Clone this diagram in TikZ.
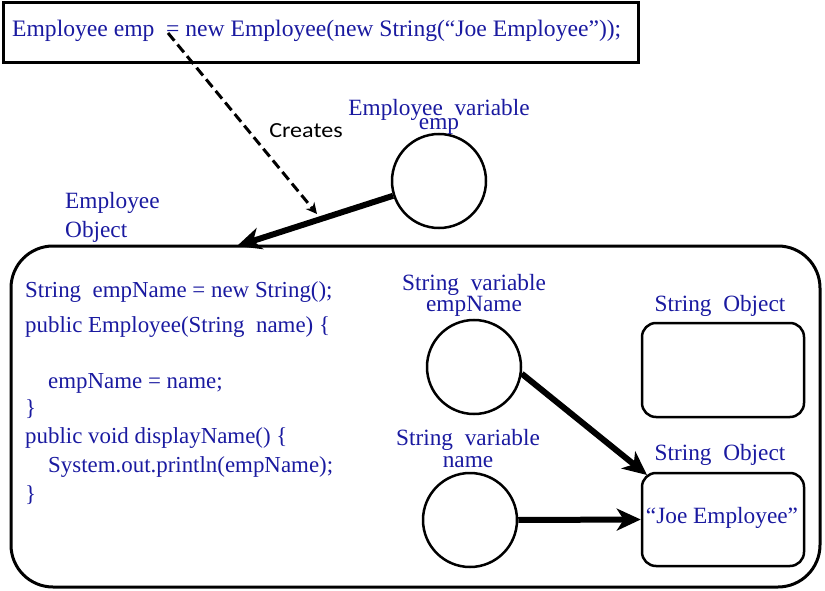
\documentclass[tikz,border=0pt]{standalone}
\usepackage{fontspec}
\setmainfont{Liberation Serif}
\newfontfamily\crfont[FakeStretch=1.12]{Carlito}
\usetikzlibrary{arrows.meta}
\definecolor{codeblue}{RGB}{26,26,160}
\newcommand\tightlines{\lineskiplimit=-100pt\relax}
\begin{document}
\begin{tikzpicture}[x=1pt,y=-1pt,
  txt/.style={text=codeblue,font=\fontsize{22.9}{22.9}\selectfont,inner sep=0pt,anchor=base west},
  lbl/.style={text=codeblue,inner sep=0pt,anchor=base,align=center},
  var/.style={circle,draw,line width=2.5pt,minimum size=94pt,inner sep=0pt},
  sobj/.style={draw,line width=2.5pt,rounded corners=14pt,minimum width=162pt,minimum height=94pt,inner sep=0pt},
  ref/.style={line width=6pt,-{Stealth[length=24pt,width=22pt,inset=7pt]}},
]
\useasboundingbox (0,0) rectangle (825,591);

% statement box
\node[draw,line width=3pt,minimum width=635pt,minimum height=60pt,inner sep=0pt] (stmt) at (320.5,33) {};
\node[txt,font=\fontsize{23.6}{23.6}\selectfont] (stmttxt) at (12,37) {Employee emp\ \ = new Employee(new String(“Joe Employee”));};

% employee object
\node[draw,line width=3pt,rounded corners=42pt,minimum width=809pt,minimum height=341pt,inner sep=0pt] (obj) at (415.5,416.5) {};
\node[txt,align=left,font=\fontsize{23.3}{29}\selectfont] (objlbl) at (65,237) {Employee\\Object};

% employee variable
\node[var] (empc) at (439,181) {};
\node[lbl,font=\fontsize{23.3}{14}\selectfont\tightlines] (emplbl) at (439,130) {Employee\ \ variable\\emp};

% code
\node[txt] (l1) at (25,297) {String\ \ empName = new String();};
\node[txt] (l2) at (25,332) {public Employee(String\ \ name) \{};
\node[txt] (l3) at (48,388) {empName = name;};
\node[txt] (l4) at (25,415) {\}};
\node[txt] (l5) at (25,443) {public void displayName() \{};
\node[txt] (l6) at (48,472) {System.out.println(empName);};
\node[txt] (l7) at (25,501) {\}};

% string variables
\node[var] (c2) at (474,367) {};
\node[lbl,font=\fontsize{23.3}{21}\selectfont\tightlines] (c2lbl) at (474,311) {String\ \ variable\\empName};
\node[var] (c3) at (470,520) {};
\node[lbl,font=\fontsize{23.3}{22}\selectfont\tightlines] (c3lbl) at (468,467) {String\ \ variable\\name};

% string objects
\node[sobj] (so1) at (723,370) {};
\node[lbl,font=\fontsize{23.3}{23.3}\selectfont] (so1lbl) at (720,311) {String\ \ Object};
\node[sobj,minimum height=93pt] (so2) at (723,519.5) {};
\node[lbl,font=\fontsize{23.3}{23.3}\selectfont] (so2lbl) at (720,460) {String\ \ Object};
\node[lbl,font=\fontsize{23.3}{23.3}\selectfont] (joe) at (722,523) {“Joe Employee”};

% connectors
\coordinate (dstart) at (168,33);
\coordinate (dend) at (317,214);
\coordinate (objtip) at (237,246);
\coordinate (jtip) at (647,475);
\draw[line width=3pt,dash pattern=on 10pt off 5pt,-{Stealth[length=11pt,width=11pt]}] (dstart) -- (dend);
\node[font=\crfont\fontsize{21.5}{21.5}\selectfont,anchor=base,inner sep=0pt] (creates) at (306,138) {Creates};
\draw[ref] (empc) -- (objtip);
\draw[ref] (c2.-8) -- (jtip);
\draw[ref] (c3.east) -- (so2.west);
\end{tikzpicture}
\end{document}
